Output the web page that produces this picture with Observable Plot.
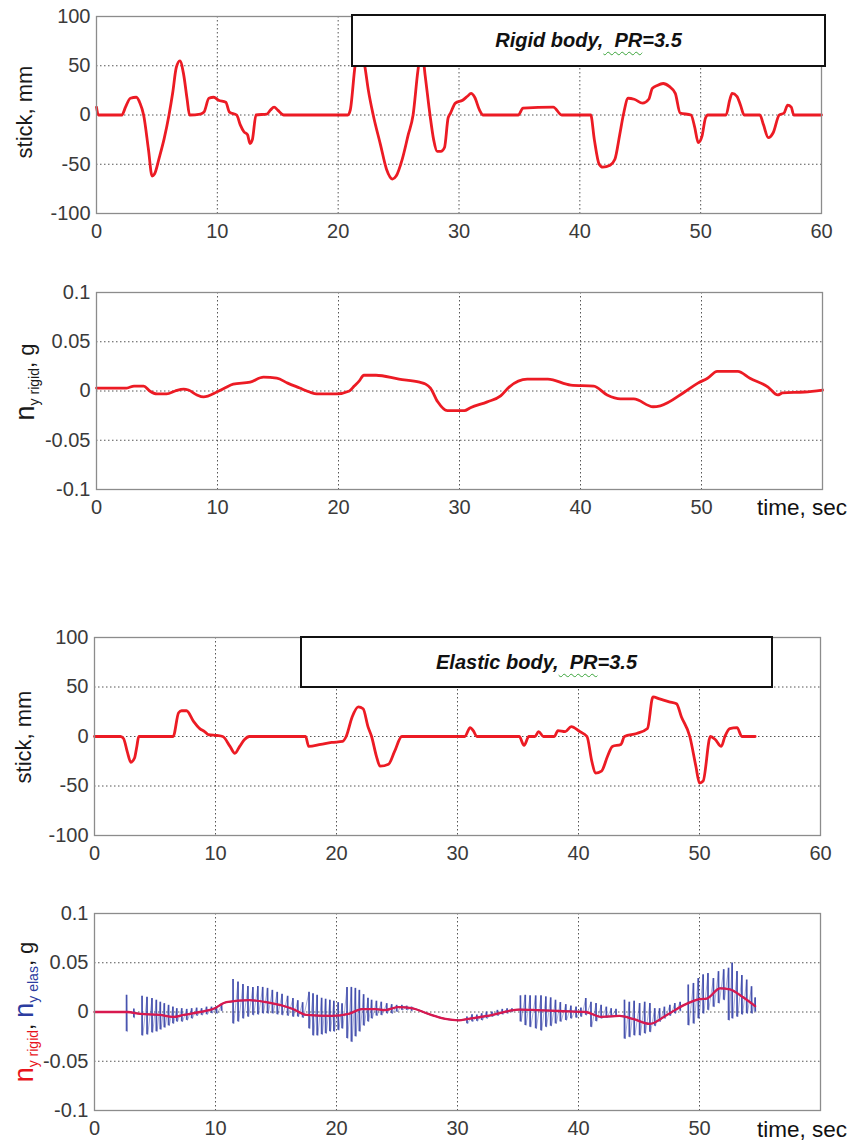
<!DOCTYPE html>
<html>
<head>
<meta charset="utf-8">
<script src="https://cdn.jsdelivr.net/npm/d3@7"></script>
<script src="https://cdn.jsdelivr.net/npm/@observablehq/plot@0.6"></script>
<style>
  html, body { margin: 0; padding: 0; background: #fff; }
  #root { position: relative; width: 856px; height: 1142px; overflow: hidden; font-family: "Liberation Sans", Arial, sans-serif; }
  .panel { position: absolute; left: 0; }
  .ylab { position: absolute; transform: translate(-50%, -50%) rotate(-90deg); white-space: nowrap; font-size: 22px; color: #1a1a1a; line-height: 1; }
  .ylab .n { font-size: 27px; }
  .ylab .sub { font-size: 14px; position: relative; top: 5px; }
  .xlab { position: absolute; white-space: nowrap; font-size: 22.5px; color: #111; line-height: 1; }
  .legend { position: absolute; background: #fff; border: 2px solid #111; box-sizing: border-box; display: flex; align-items: center; justify-content: center; font-style: italic; font-weight: bold; font-size: 20px; color: #111; }
  .legend .wavy { text-decoration: underline wavy #3aa33a; text-decoration-thickness: 1px; text-underline-offset: 4px; }
</style>
</head>
<body>
<div id="root"></div>
<script>
// ---------- data ----------
const xTicksFull = [0, 10, 20, 30, 40, 50, 60];
const xTicksTime = [0, 10, 20, 30, 40, 50];
const stickTicks = [-100, -50, 0, 50, 100];
const gTicks = [-0.1, -0.05, 0, 0.05, 0.1];

// Rigid body: stick, mm  [time s, value]
const stickRigid = [[0,8],[0.15,0],[2.1,0],[2.4,8],[2.8,17],[3.3,18],[3.6,12],[3.9,0],[4.3,-35],[4.6,-62],[4.8,-60],[5.2,-43],[5.6,-24],[6.0,0],[6.3,22],[6.6,48],[6.9,55],[7.2,42],[7.5,16],[7.7,0],[8.6,1],[8.9,3],[9.3,17],[9.7,18],[10.1,15],[10.7,13],[11.0,3],[11.6,0],[11.9,-10],[12.2,-17],[12.5,-20],[12.7,-29],[12.9,-25],[13.2,0],[14.1,1],[14.4,5],[14.7,8],[15.0,5],[15.5,0],[20.8,0],[21.0,5],[21.4,50],[21.8,72],[22.2,50],[22.5,25],[22.9,0],[23.5,-30],[24.0,-55],[24.5,-65],[24.8,-62],[25.3,-45],[25.8,-20],[26.2,0],[26.6,45],[26.9,68],[27.2,40],[27.6,0],[27.9,-25],[28.2,-37],[28.5,-37],[28.8,-33],[29.1,-3],[29.3,2],[29.7,12],[30.3,15],[30.7,19],[31.0,22],[31.3,18],[31.7,5],[32.0,0],[34.9,0],[35.3,7],[37.8,8],[38.5,0],[40.9,0],[41.2,-25],[41.6,-50],[41.9,-53],[42.5,-51],[42.9,-45],[43.3,-20],[43.6,0],[44.0,17],[44.5,16],[45.2,12],[45.7,16],[46.0,27],[46.4,30],[46.9,32],[47.4,29],[47.9,22],[48.3,2],[49.2,0],[49.5,-12],[49.8,-28],[50.1,-22],[50.4,-3],[50.6,0],[52.1,0],[52.4,15],[52.6,22],[53.0,19],[53.3,10],[53.6,0],[54.9,0],[55.2,-10],[55.6,-23],[56.0,-18],[56.5,0],[56.9,2],[57.2,10],[57.5,8],[57.7,0],[60,0]];

// Rigid body: n_y rigid, g
const nyRigid = [[0,0.003],[2.5,0.003],[3.1,0.005],[3.9,0.005],[4.4,0.0],[5.0,-0.003],[5.8,-0.003],[6.5,0.0],[7.2,0.002],[7.6,0.001],[8.3,-0.004],[8.85,-0.006],[9.95,-0.001],[10.6,0.003],[11.3,0.007],[12.7,0.009],[13.8,0.014],[14.9,0.013],[15.8,0.008],[16.8,0.003],[17.6,-0.001],[18.2,-0.003],[19.8,-0.003],[20.9,0],[21.3,0.005],[21.7,0.01],[22.1,0.016],[23.1,0.016],[25.0,0.012],[26.7,0.009],[27.2,0.007],[27.6,0.003],[28.2,-0.011],[29.0,-0.020],[30.4,-0.020],[30.9,-0.017],[32.3,-0.011],[33.4,-0.005],[34.1,0.004],[35.6,0.012],[37.3,0.012],[39.2,0.006],[41.1,0.005],[42.2,-0.004],[43.3,-0.008],[44.4,-0.008],[46.0,-0.016],[46.6,-0.015],[48.6,-0.001],[49.7,0.008],[50.5,0.013],[51.3,0.020],[53.0,0.020],[54.0,0.013],[55.5,0.004],[56.3,-0.004],[56.7,-0.002],[58.5,-0.001],[60,0.001]];

// Elastic body: stick, mm
const stickElastic = [[0,0],[2.15,0],[2.4,-2],[2.7,-15],[3.0,-26],[3.3,-22],[3.5,-10],[3.66,0],[6.5,0],[6.95,24],[7.2,26],[7.6,26],[8.2,15],[8.7,8],[9.1,5],[9.4,2],[10.1,1],[10.6,0],[11.2,-10],[11.6,-17],[12.0,-10],[12.4,-3],[12.8,0],[17.45,0],[17.7,-10],[18.7,-8],[19.6,-6],[20.5,-5],[20.8,0],[21.3,20],[21.8,30],[22.2,28],[22.6,10],[22.9,0],[23.3,-20],[23.6,-30],[24.3,-28],[24.8,-15],[25.4,0],[30.6,0],[31.05,9],[31.3,6],[31.6,0],[35.1,0],[35.5,-9],[35.9,0],[36.4,0],[36.7,5],[37.1,0],[38.0,0],[38.3,6],[38.9,5],[39.4,10],[40.1,5],[40.7,0],[41.1,-25],[41.4,-37],[41.9,-35],[42.4,-20],[42.8,-10],[43.5,-8],[43.8,0],[44.8,3],[45.7,8],[46.15,40],[46.7,38],[47.5,35],[48.1,33],[48.5,20],[49.2,0],[49.7,-30],[50.0,-47],[50.3,-45],[50.9,0],[51.3,-3],[51.8,-10],[52.1,0],[52.5,8],[53.1,9],[53.5,0],[54.6,0]];

// Elastic body: n_y rigid, g (red)
const nyRigidE = [[0,0],[2.7,0],[3.8,-0.002],[5.4,-0.003],[6.5,-0.005],[7.35,-0.003],[8.7,0],[9.8,0.003],[10.9,0.01],[12.8,0.012],[14.2,0.01],[16.4,0.003],[17.5,-0.003],[19.6,-0.004],[21.0,-0.002],[22.1,0.003],[23.2,0.003],[24.0,0.002],[25.1,0.005],[26.2,0.004],[27.6,-0.002],[29.0,-0.007],[30.1,-0.0085],[30.9,-0.007],[32.9,-0.003],[34.2,0.001],[35.1,0.0025],[36.5,0.002],[38.4,0.001],[40.6,0],[41.9,-0.005],[43.4,-0.004],[44.5,-0.007],[45.9,-0.012],[47.3,-0.003],[48.7,0.007],[50.0,0.013],[50.6,0.0137],[51.7,0.024],[52.5,0.023],[53.6,0.015],[54.6,0.006]];

// Elastic body: n_y elas, g (blue) — oscillation strokes [time, peak, trough]
const nyElasStrokes = [[2.65,0.017,-0.020],[3.25,0.003,-0.006],
[3.93,0.016,-0.024],[4.34,0.015,-0.023],[4.75,0.0136,-0.021],[5.11,0.012,-0.020],[5.44,0.010,-0.018],[5.77,0.0085,-0.016],[6.12,0.0068,-0.014],[6.48,0.005,-0.012],[6.80,0.0034,-0.010],
[7.21,0.0034,-0.010],[7.62,0.0027,-0.0085],[8.03,0.0034,-0.0068],[8.44,0.004,-0.004],[8.85,0.0034,-0.0034],[9.26,0.005,-0.0027],[9.67,0.005,-0.0014],[10.08,0.005,-0.0017],[10.5,0.0068,0.0007],
[11.45,0.033,-0.012],[11.86,0.0305,-0.010],[12.27,0.028,-0.0068],[12.68,0.026,-0.005],[13.09,0.025,-0.0034],[13.5,0.026,-0.0027],[13.9,0.025,-0.0017],[14.3,0.024,-0.0017],[14.7,0.022,-0.0017],[15.1,0.020,-0.0027],[15.5,0.018,-0.0034],[15.96,0.016,-0.004],[16.4,0.0136,-0.005],[16.8,0.0115,-0.005],[17.2,0.0095,-0.006],
[17.73,0.020,-0.017],[18.06,0.0186,-0.024],[18.4,0.017,-0.024],[18.77,0.014,-0.023],[19.1,0.013,-0.022],[19.45,0.012,-0.020],[19.78,0.011,-0.020],[20.14,0.0095,-0.0186],[20.46,0.0085,-0.017],
[20.87,0.025,-0.027],[21.23,0.025,-0.0305],[21.56,0.024,-0.025],[21.89,0.022,-0.020],[22.24,0.0176,-0.014],[22.6,0.014,-0.010],[22.9,0.012,-0.0068],[23.3,0.011,-0.004],[23.7,0.010,-0.0034],[24.15,0.0085,-0.0017],[24.56,0.0075,-0.0017],[24.97,0.0068,0],[25.4,0.0068,0.0017],[25.8,0.006,0.0017],[26.2,0.005,0.0007],
[30.78,-0.005,-0.012],[31.2,-0.0027,-0.010],[31.6,-0.003,-0.0095],[32.0,-0.0017,-0.0086],[32.4,0,-0.0068],[32.85,0,-0.005],[33.3,0.0017,-0.004],[33.7,0.0027,-0.0027],[34.1,0.0034,-0.0017],[34.5,0.0034,0],
[35.2,0.0164,-0.010],[35.6,0.017,-0.0137],[36.0,0.0164,-0.0154],[36.46,0.0164,-0.017],[36.9,0.0164,-0.019],[37.3,0.0154,-0.0154],[37.7,0.0144,-0.0144],[38.1,0.012,-0.012],[38.5,0.0096,-0.010],[38.95,0.0075,-0.0086],[39.37,0.006,-0.0068],[39.8,0.005,-0.006],[40.2,0.004,-0.005],
[40.6,0.0137,-0.0034],[41.03,0.010,-0.0154],[41.45,0.0086,-0.0096],[41.87,0.0068,-0.0068],[42.3,0.005,-0.006],[42.7,0.0034,-0.004],[43.1,0.0027,-0.004],
[43.8,0.012,-0.0274],[44.2,0.010,-0.0257],[44.6,0.011,-0.024],[45.05,0.0086,-0.024],[45.47,0.010,-0.022],[45.9,0.0086,-0.0205],[46.3,0.0034,-0.0144],
[46.7,0.0034,-0.010],[47.1,0.005,-0.0068],[47.55,0.0068,-0.004],[47.96,0.0086,-0.0017],[48.4,0.010,0.0007],
[49.07,0.0274,-0.0137],[49.5,0.029,-0.012],[49.9,0.034,-0.0068],[50.3,0.0377,-0.0017],[50.7,0.039,0.0017],[51.15,0.034,0.005],[51.57,0.041,0.0086],[52.0,0.043,0.012],[52.4,0.0445,-0.0086],[52.7,0.0497,-0.0068],[53.1,0.041,-0.005],[53.5,0.037,-0.0027],[53.9,0.0325,-0.0017],[54.3,0.0257,-0.0017],[54.6,0.0144,0]];

// ---------- drawing ----------
const root = document.getElementById("root");
const RED = "#ec1b24";
const fmt = d => String(d);

function panel({top, height, mt, mb, ml, mr, yDomain, yTicks, xTicks, marks}) {
  const chart = Plot.plot({
    width: 856, height,
    marginTop: mt, marginBottom: mb, marginLeft: ml, marginRight: mr,
    style: {fontSize: "20px", fontFamily: "'Liberation Sans', Arial, sans-serif", color: "#3a3a3a", background: "transparent", overflow: "visible"},
    x: {domain: [0, 60], ticks: xTicks, tickSize: 0, tickPadding: 10, tickFormat: fmt, label: null},
    y: {domain: yDomain, ticks: yTicks, tickSize: 0, tickPadding: 6, tickFormat: fmt, label: null},
    marks: [
      Plot.ruleX(xTicksFull, {stroke: "#555", strokeWidth: 1, strokeDasharray: "1.5,2.5"}),
      Plot.ruleY(yTicks, {stroke: "#555", strokeWidth: 1, strokeDasharray: "1.5,2.5"}),
      ...marks,
      Plot.frame({stroke: "#8c8c8c", strokeWidth: 1.3})
    ]
  });
  const div = document.createElement("div");
  div.className = "panel";
  div.style.top = top + "px";
  div.appendChild(chart);
  root.appendChild(div);
}

const lineOpts = (stroke, w) => ({x: d => d[0], y: d => d[1], stroke, strokeWidth: w, strokeLinejoin: "round", curve: "monotone-x"});

// Panel 1
panel({top: 0, height: 250, mt: 16, mb: 37, ml: 96, mr: 35, yDomain: [-100, 100], yTicks: stickTicks, xTicks: xTicksFull,
  marks: [Plot.line(stickRigid, lineOpts(RED, 2.8))]});
// Panel 2
panel({top: 270, height: 250, mt: 22, mb: 31, ml: 96, mr: 34, yDomain: [-0.1, 0.1], yTicks: gTicks, xTicks: xTicksTime,
  marks: [Plot.line(nyRigid, lineOpts(RED, 2.8))]});
// Panel 3
panel({top: 620, height: 250, mt: 17, mb: 35, ml: 94, mr: 36, yDomain: [-100, 100], yTicks: stickTicks, xTicks: xTicksFull,
  marks: [Plot.line(stickElastic, lineOpts(RED, 2.8))]});

// Panel 4: blue zig-zag from stroke peaks/troughs (break between separate bursts)
const blueZig = [];
nyElasStrokes.forEach((s, i) => {
  if (i > 0 && s[0] - nyElasStrokes[i - 1][0] > 0.6) blueZig.push([s[0], NaN]);
  blueZig.push([s[0], s[1]]);
  blueZig.push([s[0] + 0.06, s[2]]);
});
panel({top: 890, height: 252, mt: 23, mb: 32, ml: 94, mr: 36, yDomain: [-0.1, 0.1], yTicks: gTicks, xTicks: xTicksTime,
  marks: [
    Plot.line(nyRigidE, lineOpts("#3a46a8", 1.5)),
    Plot.line(blueZig, {x: d => d[0], y: d => d[1], stroke: "#3a46a8", strokeWidth: 0.7, strokeOpacity: 0.6}),
    Plot.ruleX(nyElasStrokes, {x: d => d[0], y1: d => d[2], y2: d => d[1], stroke: "#3a46a8", strokeWidth: 1.7, strokeOpacity: 0.9}),
    Plot.line(nyRigidE, lineOpts("#d8194f", 2.3))
  ]});

// ---------- text overlays ----------
function addHTML(html) { const t = document.createElement("div"); t.innerHTML = html; root.appendChild(t.firstElementChild); }

addHTML(`<div class="ylab" style="left:25px; top:112px">stick, mm</div>`);
addHTML(`<div class="ylab" style="left:25px; top:382px"><span class="n">n</span><span class="sub">y rigid</span>, g</div>`);
addHTML(`<div class="ylab" style="left:24px; top:737px">stick, mm</div>`);
addHTML(`<div class="ylab" style="left:24px; top:1012px"><span style="color:#e8141c"><span class="n">n</span><span class="sub">y rigid</span></span>, <span style="color:#2c3ca0"><span class="n">n</span><span class="sub">y elas</span></span>, g</div>`);

addHTML(`<div class="xlab" style="left:757px; top:497px">time, sec</div>`);
addHTML(`<div class="xlab" style="left:757px; top:1119px">time, sec</div>`);

addHTML(`<div class="legend" style="left:351px; top:14px; width:475px; height:53px"><span>Rigid body,<span class="wavy">&nbsp;&nbsp;PR</span>=3.5</span></div>`);
addHTML(`<div class="legend" style="left:300px; top:636px; width:473px; height:52px"><span>Elastic body,<span class="wavy">&nbsp;&nbsp;PR</span>=3.5</span></div>`);
</script>
</body>
</html>
